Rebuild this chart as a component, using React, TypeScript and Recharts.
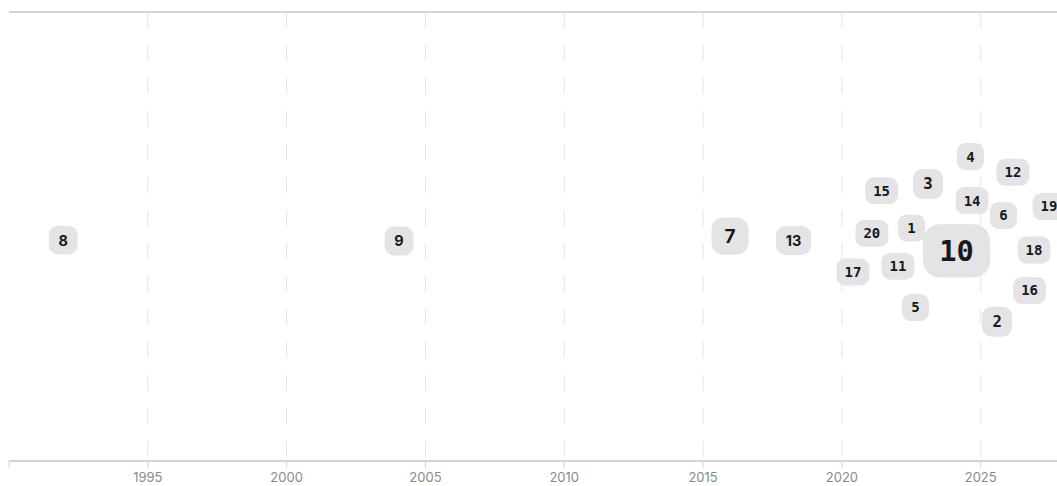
import React from "react";
import {
  CartesianGrid,
  ReferenceLine,
  Scatter,
  ScatterChart,
  XAxis,
  YAxis,
} from "recharts";

// node labels, position on the time axis, vertical offset and weight
const labels = ["8", "9", "7", "13", "15", "3", "4", "12", "14", "6", "19", "20", "1", "10", "18", "17", "11", "16", "5", "2"];
const years = [1991.95, 2004.05, 2015.97, 2018.26, 2021.43, 2023.1, 2024.63, 2026.16, 2024.69, 2025.82, 2027.46, 2021.08, 2022.51, 2024.13, 2026.92, 2020.4, 2022.02, 2026.76, 2022.65, 2025.59];
const offsets = [-0.8, -1.0, 0.1, -0.9, 10.2, 11.7, 17.8, 14.3, 8.0, 4.7, 6.7, 0.7, 1.9, -3.2, -3.0, -7.9, -6.6, -12.0, -15.8, -19.0];
const weights = [1.15, 1.15, 1.96, 1.15, 1, 1.25, 1, 1, 1, 1, 1, 1, 1, 4.2, 1, 1, 1, 1, 1, 1.25];

const tickYears = [1990, 1995, 2000, 2005, 2010, 2015, 2020, 2025];
const gridYears = [1995, 2000, 2005, 2010, 2015, 2020, 2025];

const data = labels.map((label, i) => ({
  label,
  year: years[i],
  offset: offsets[i],
  weight: weights[i],
}));

const Bubble = (props: any) => {
  const { cx, cy, payload } = props;
  if (cx == null || cy == null) return null;
  const s = Math.sqrt(payload.weight);
  const mono = payload.year >= 2020;
  const fontSize = (mono ? 14 : 13.5) * s;
  const charW = mono ? 0.602 : 0.62;
  const h = 27 * Math.pow(s, 0.95);
  const w = Math.max(h, payload.label.length * charW * fontSize + 16 * s);
  return (
    <g>
      <rect
        x={cx - w / 2}
        y={cy - h / 2}
        width={w}
        height={h}
        rx={h * 0.32}
        ry={h * 0.32}
        fill="#e4e4e7"
      />
      <text
        x={cx}
        y={cy}
        textAnchor="middle"
        dominantBaseline="central"
        fontFamily={mono ? "'DejaVu Sans Mono', monospace" : "Inter, sans-serif"}
        fontWeight={700}
        fontSize={fontSize}
        fill="#18181b"
      >
        {payload.label}
      </text>
    </g>
  );
};

export default function App() {
  return (
    <div
      style={{
        position: "absolute",
        left: 8,
        top: 8,
        width: 1049,
        height: 478,
        overflow: "hidden",
      }}
    >
      <ScatterChart
        width={1056}
        height={478}
        margin={{ top: 4, right: 0, bottom: 0, left: 1 }}
      >
        <CartesianGrid
          horizontal={false}
          verticalValues={gridYears}
          stroke="#e4e4e7"
          strokeDasharray="16 17"
        />
        <XAxis
          type="number"
          dataKey="year"
          domain={[1990, 2028]}
          ticks={tickYears}
          allowDataOverflow
          height={25}
          axisLine={{ stroke: "#d4d4d8", strokeWidth: 2 }}
          tickLine={{ stroke: "#d4d4d8" }}
          tickSize={7}
          tickMargin={5}
          tickFormatter={(v: number) => (v === 1990 ? "" : String(v))}
          tick={{ fill: "#8a8a8a", fontSize: 13, fontFamily: "Inter, sans-serif" }}
        />
        <YAxis type="number" dataKey="offset" domain={[-50, 50]} hide />
        <ReferenceLine y={50} stroke="#d4d4d8" strokeWidth={2} />
        <Scatter data={data} shape={<Bubble />} isAnimationActive={false} />
      </ScatterChart>
    </div>
  );
}
